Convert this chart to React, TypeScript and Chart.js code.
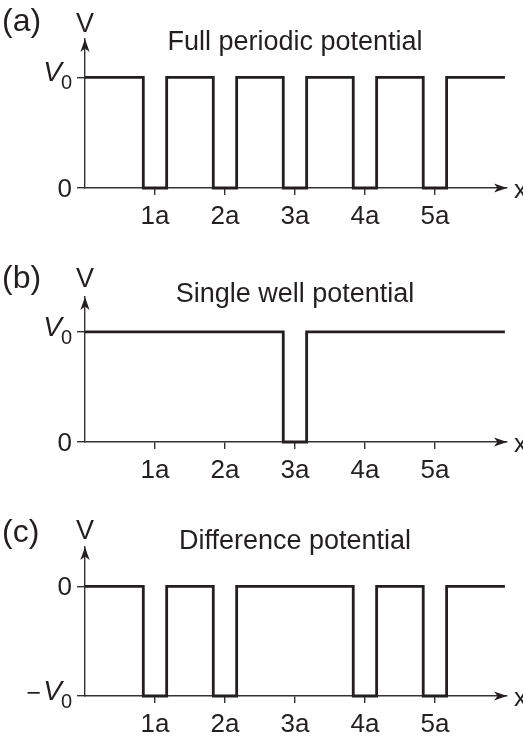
import React, { useEffect, useRef } from 'react';
import { Chart, registerables } from 'chart.js';

Chart.register(...registerables);

// ---------- data ----------
const xTickValues = [1, 2, 3, 4, 5];
const xTickLabels = ['1a', '2a', '3a', '4a', '5a'];

// breakpoints (x in units of a) and potential level (in units of V0) from each breakpoint on
const periodicEdges = [0, 0.833, 1.167, 1.833, 2.167, 2.833, 3.167, 3.833, 4.167, 4.833, 5.167, 6];
const periodicLevels = [1, 0, 1, 0, 1, 0, 1, 0, 1, 0, 1, 1];

const singleEdges = [0, 2.833, 3.167, 6];
const singleLevels = [1, 0, 1, 1];

const diffEdges = [0, 0.833, 1.167, 1.833, 2.167, 3.833, 4.167, 4.833, 5.167, 6];
const diffLevels = [0, -1, 0, -1, 0, -1, 0, -1, 0, 0];

const yTicksAB = [0, 1];
const yTickLabelsAB = ['0', 'V0'];
const yTicksC = [-1, 0];
const yTickLabelsC = ['\u2212V0', '0'];

// ---------- style ----------
const FONT = "'Liberation Sans', Arial, Helvetica, sans-serif";
const INK = '#231f20';
const AXIS = '#333333';
const XH = 40; // forced height of x scale box
const XMAX = 6.03;

interface PanelCfg {
  top: number;
  height: number;
  tag: string;
  title: string;
  xs: number[];
  vs: number[];
  yMin: number;
  yMax: number;
  yTicks: number[];
  yLabels: string[];
  axisTop: number;
  axisBottom: number;
  tagBaseline: number;
  vBaseline: number;
  titleBaseline: number;
}

const panels: PanelCfg[] = [
  {
    top: 0, height: 254, tag: '(a)', title: 'Full periodic potential',
    xs: periodicEdges, vs: periodicLevels, yMin: 0, yMax: 1.347,
    yTicks: yTicksAB, yLabels: yTickLabelsAB,
    axisTop: 39, axisBottom: 188, tagBaseline: 31, vBaseline: 32, titleBaseline: 50,
  },
  {
    top: 254, height: 253, tag: '(b)', title: 'Single well potential',
    xs: singleEdges, vs: singleLevels, yMin: 0, yMax: 1.316,
    yTicks: yTicksAB, yLabels: yTickLabelsAB,
    axisTop: 43, axisBottom: 188, tagBaseline: 34, vBaseline: 33, titleBaseline: 48,
  },
  {
    top: 507, height: 232, tag: '(c)', title: 'Difference potential',
    xs: diffEdges, vs: diffLevels, yMin: -1, yMax: 0.358,
    yTicks: yTicksC, yLabels: yTickLabelsC,
    axisTop: 40, axisBottom: 189, tagBaseline: 35, vBaseline: 32, titleBaseline: 42,
  },
];

function drawArrow(ctx: CanvasRenderingContext2D, x: number, y: number, dir: 'up' | 'right') {
  const L = 13, W = 4.6, N = 3.5;
  ctx.save();
  ctx.translate(x, y);
  if (dir === 'right') ctx.rotate(Math.PI / 2);
  ctx.beginPath();
  ctx.moveTo(0, 0);
  ctx.lineTo(W, L);
  ctx.lineTo(0, L - N);
  ctx.lineTo(-W, L);
  ctx.closePath();
  ctx.fillStyle = INK;
  ctx.fill();
  ctx.restore();
}

function Panel({ cfg }: { cfg: PanelCfg }) {
  const ref = useRef<HTMLCanvasElement | null>(null);
  useEffect(() => {
    if (!ref.current) return;
    const decor = {
      id: 'decor',
      afterDraw(chart: any) {
        const { ctx, chartArea: ca, scales } = chart;
        const ys = scales.y;
        ctx.save();
        ctx.fillStyle = INK;
        drawArrow(ctx, ca.left, ca.top, 'up');
        drawArrow(ctx, ca.right, ca.bottom, 'right');

        ctx.textAlign = 'left';
        ctx.textBaseline = 'alphabetic';
        ctx.font = `32px ${FONT}`;
        ctx.fillText(cfg.tag, 2, cfg.tagBaseline);

        ctx.textAlign = 'center';
        ctx.font = `27px ${FONT}`;
        ctx.fillText('V', ca.left, cfg.vBaseline);
        ctx.font = `27px ${FONT}`;
        ctx.fillText(cfg.title, 295, cfg.titleBaseline);

        ctx.textAlign = 'left';
        ctx.font = `26px ${FONT}`;
        ctx.fillText('x', ca.right + 7, ca.bottom + 10);

        const rightEdge = ca.left - 13;
        cfg.yTicks.forEach((v, i) => {
          const label = cfg.yLabels[i];
          const py = ys.getPixelForValue(v);
          if (label.endsWith('V0')) {
            ctx.textAlign = 'right';
            ctx.font = `20px ${FONT}`;
            const subW = ctx.measureText('0').width;
            ctx.fillText('0', rightEdge, py + 12);
            ctx.font = `italic 28px ${FONT}`;
            const vRight = rightEdge - subW + 1;
            ctx.fillText('V', vRight, py + 4);
            const vW = ctx.measureText('V').width;
            if (label.startsWith('\u2212')) {
              ctx.font = `25px ${FONT}`;
              ctx.fillText('\u2212', vRight - vW - 2, py + 4.5);
            }
          } else {
            ctx.textAlign = 'right';
            ctx.font = `26px ${FONT}`;
            ctx.fillText(label, rightEdge, py + 9);
          }
        });
        ctx.restore();
      },
    };

    const chart = new Chart(ref.current, {
      type: 'line',
      data: {
        datasets: [
          {
            data: cfg.xs.map((x, i) => ({ x, y: cfg.vs[i] })),
            stepped: 'before',
            borderColor: INK,
            borderWidth: 2.8,
            pointRadius: 0,
            fill: false,
            clip: false as any,
            borderJoinStyle: 'miter',
            borderCapStyle: 'butt',
          } as any,
        ],
      },
      options: {
        animation: false,
        responsive: false,
        maintainAspectRatio: false,
        events: [],
        layout: {
          padding: {
            left: 77,
            right: 523 - 507,
            top: cfg.axisTop,
            bottom: cfg.height - cfg.axisBottom - XH,
          },
        },
        plugins: {
          legend: { display: false },
          tooltip: { enabled: false },
          title: { display: false },
        },
        scales: {
          x: {
            type: 'linear',
            position: 'bottom',
            min: 0,
            max: XMAX,
            afterBuildTicks: (s: any) => {
              s.ticks = xTickValues.map((value) => ({ value }));
            },
            afterFit: (s: any) => {
              s.height = XH;
            },
            ticks: {
              callback: (v: any) => xTickLabels[xTickValues.indexOf(Number(v))],
              font: { family: FONT, size: 26 },
              color: INK,
              padding: 6,
              maxRotation: 0,
              autoSkip: false,
            },
            grid: {
              drawOnChartArea: false,
              drawTicks: true,
              tickLength: 7,
              color: AXIS,
              lineWidth: 1.4,
            },
            border: { display: true, color: AXIS, width: 1.4 },
          },
          y: {
            type: 'linear',
            min: cfg.yMin,
            max: cfg.yMax,
            afterBuildTicks: (s: any) => {
              s.ticks = cfg.yTicks.map((value) => ({ value }));
            },
            afterFit: (s: any) => {
              s.width = 8;
            },
            ticks: { display: false },
            grid: {
              drawOnChartArea: false,
              drawTicks: true,
              tickLength: 8,
              color: AXIS,
              lineWidth: 1.4,
            },
            border: { display: true, color: AXIS, width: 1.4 },
          },
        },
      } as any,
      plugins: [decor],
    });
    return () => chart.destroy();
  }, [cfg]);

  return (
    <div style={{ position: 'absolute', left: 0, top: cfg.top, width: 523, height: cfg.height }}>
      <canvas ref={ref} width={523} height={cfg.height} style={{ display: 'block', width: 523, height: cfg.height }} />
    </div>
  );
}

export default function App() {
  return (
    <div style={{ position: 'absolute', left: 0, top: 0, width: 523, height: 739, background: '#ffffff', overflow: 'hidden' }}>
      {panels.map((p) => (
        <Panel key={p.tag} cfg={p} />
      ))}
    </div>
  );
}
